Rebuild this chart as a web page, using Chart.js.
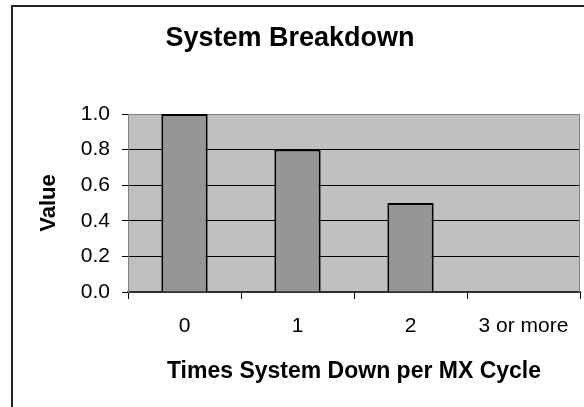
<!DOCTYPE html>
<html>
<head>
<meta charset="utf-8">
<script src="https://cdn.jsdelivr.net/npm/chart.js@4"></script>
<style>
  html, body { margin: 0; padding: 0; background: #fff; }
  #wrap { width: 584px; height: 407px; position: relative; }
</style>
</head>
<body>
<div id="wrap"><canvas id="c" width="584" height="407"></canvas></div>
<script>
const categories = ['0', '1', '2', '3 or more'];
const values = [1.0, 0.8, 0.5, 0];
const chartTitle = 'System Breakdown';
const xTitle = 'Times System Down per MX Cycle';
const yTitle = 'Value';

const FONT = "'Liberation Sans', Arial, sans-serif";

const framePlugin = {
  id: 'frame',
  beforeDraw(chart) {
    const ctx = chart.ctx;
    const a = chart.chartArea;
    ctx.save();
    ctx.fillStyle = '#ffffff';
    ctx.fillRect(0, 0, chart.width, chart.height);
    // outer chart border
    ctx.strokeStyle = '#222222';
    ctx.lineWidth = 2;
    ctx.beginPath();
    ctx.moveTo(12, chart.height + 5);
    ctx.lineTo(12, 6);
    ctx.lineTo(chart.width + 5, 6);
    ctx.stroke();
    // plot area
    ctx.fillStyle = '#C0C0C0';
    ctx.fillRect(a.left, a.top, a.right - a.left, a.bottom - a.top);
    ctx.restore();
  },
  beforeDatasetsDraw(chart) {
    const ctx = chart.ctx;
    const a = chart.chartArea;
    ctx.save();
    ctx.strokeStyle = '#808080';
    ctx.lineWidth = 1;
    ctx.beginPath();
    ctx.moveTo(a.left, a.top + 0.5);
    ctx.lineTo(a.right - 0.5, a.top + 0.5);
    ctx.lineTo(a.right - 0.5, a.bottom);
    ctx.stroke();
    ctx.restore();
  }
};

new Chart(document.getElementById('c'), {
  type: 'bar',
  data: {
    labels: categories,
    datasets: [{
      data: values,
      backgroundColor: '#969696',
      borderColor: '#000000',
      borderWidth: 2,
      barPercentage: 0.41,
      categoryPercentage: 1.0
    }]
  },
  options: {
    responsive: false,
    animation: false,
    layout: { padding: { left: 0, right: 4, top: 0, bottom: 0 } },
    plugins: {
      legend: { display: false },
      tooltip: { enabled: false },
      title: {
        display: true,
        text: chartTitle,
        color: '#000',
        font: { family: FONT, size: 27, weight: 'bold' },
        padding: { top: 22, bottom: 59.6 }
      }
    },
    scales: {
      x: {
        offset: true,
        afterFit(scale) { scale.height = 115; },
        grid: {
          offset: true,
          drawOnChartArea: false,
          drawTicks: true,
          tickLength: 7,
          tickColor: '#000',
          tickWidth: 1
        },
        border: { display: true, color: '#303030', width: 2 },
        ticks: {
          color: '#000',
          font: { family: FONT, size: 21 },
          padding: 15,
          maxRotation: 0,
          autoSkip: false
        },
        title: {
          display: true,
          text: xTitle,
          color: '#000',
          font: { family: FONT, size: 23, weight: 'bold' },
          padding: { top: 0, bottom: 22 }
        }
      },
      y: {
        min: 0,
        max: 1,
        afterFit(scale) { scale.width = 128; },
        grid: {
          color: (c) => (c.tick && c.tick.value === 1) ? '#808080' : '#000000',
          lineWidth: 1,
          drawTicks: true,
          tickLength: 6,
          tickColor: '#000',
          tickWidth: 1
        },
        border: { display: true, color: '#808080', width: 1 },
        ticks: {
          stepSize: 0.2,
          color: '#000',
          padding: 12,
          font: { family: FONT, size: 21 },
          callback: (v) => Number(v).toFixed(1)
        },
        title: {
          display: true,
          text: yTitle,
          color: '#000',
          font: { family: FONT, size: 22, weight: 'bold' },
          padding: { top: 36, bottom: 0 }
        }
      }
    }
  },
  plugins: [framePlugin]
});
</script>
</body>
</html>
